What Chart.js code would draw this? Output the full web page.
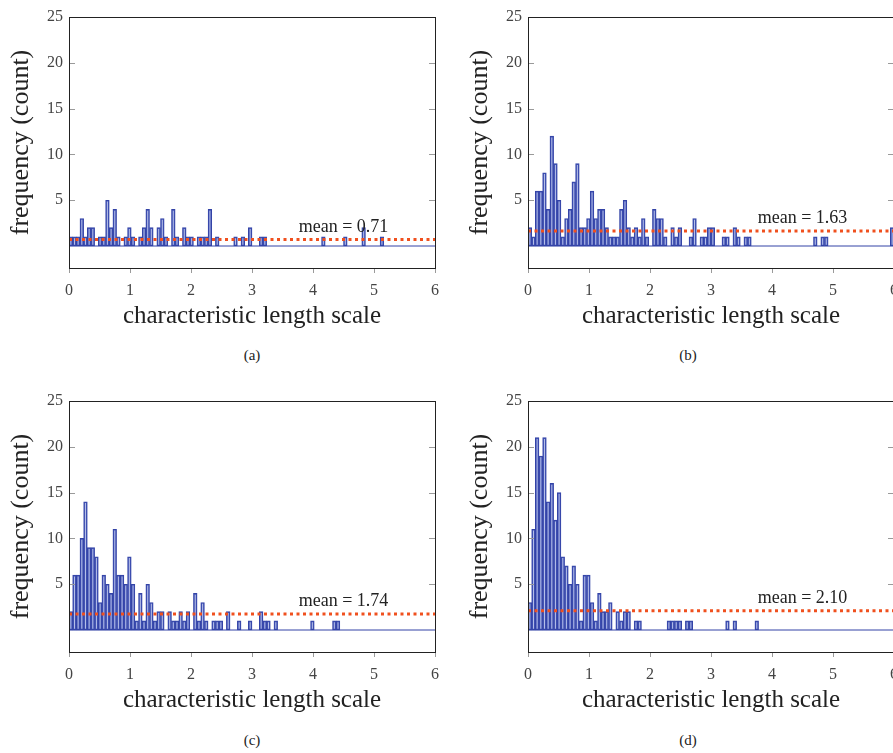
<!DOCTYPE html>
<html lang="en">
<head>
  <meta charset="UTF-8">
  <title>characteristic length scale histograms</title>
  <script src="https://cdn.jsdelivr.net/npm/chart.js@4.4.1/dist/chart.umd.min.js"></script>
  <style>
    body {
      margin: 0;
      width: 893px;
      height: 753px;
      overflow: hidden;
      position: relative;
      background: #fff;
      font-family: "Liberation Serif", serif;
    }
    .panel { position: absolute; }
    .cap {
      position: absolute;
      width: 60px;
      margin-left: -30px;
      text-align: center;
      font-size: 15px;
      line-height: 16px;
      color: #222;
    }
  </style>
</head>
<body>
  <div class="panel" style="left:0;top:0"><canvas id="ca" width="446" height="340"></canvas></div>
  <div class="panel" style="left:459px;top:0"><canvas id="cb" width="446" height="340"></canvas></div>
  <div class="panel" style="left:0;top:384px"><canvas id="cc" width="446" height="340"></canvas></div>
  <div class="panel" style="left:459px;top:384px"><canvas id="cd" width="446" height="340"></canvas></div>
  <div class="cap" style="left:252px;top:347px">(a)</div>
  <div class="cap" style="left:688px;top:347px">(b)</div>
  <div class="cap" style="left:252px;top:732px">(c)</div>
  <div class="cap" style="left:688px;top:732px">(d)</div>
  <script>
    // 100 bins of width 0.06 over [0, 6]
    const binWidth = 0.06;
    const xTicks = [0, 1, 2, 3, 4, 5, 6];
    const yTicks = [5, 10, 15, 20, 25];

    const countsA = [
      1, 1, 1, 3, 1, 2, 2, 0, 1, 1, 5, 2, 4, 1, 0, 1, 2, 1, 0, 1,
      2, 4, 2, 0, 2, 3, 1, 0, 4, 1, 0, 2, 1, 1, 0, 1, 1, 1, 4, 0,
      1, 0, 0, 0, 0, 1, 0, 1, 0, 2, 0, 0, 1, 1, 0, 0, 0, 0, 0, 0,
      0, 0, 0, 0, 0, 0, 0, 0, 0, 1, 0, 0, 0, 0, 0, 1, 0, 0, 0, 0,
      2, 0, 0, 0, 0, 1, 0, 0, 0, 0, 0, 0, 0, 0, 0, 0, 0, 0, 0, 0
    ];
    const countsB = [
      2, 1, 6, 6, 8, 4, 12, 9, 5, 1, 3, 4, 7, 9, 2, 2, 3, 6, 3, 4,
      4, 2, 1, 1, 1, 4, 5, 2, 1, 2, 1, 3, 1, 0, 4, 3, 3, 1, 0, 2,
      1, 2, 0, 0, 1, 3, 0, 1, 1, 2, 2, 0, 0, 1, 1, 0, 2, 1, 0, 1,
      1, 0, 0, 0, 0, 0, 0, 0, 0, 0, 0, 0, 0, 0, 0, 0, 0, 0, 1, 0,
      1, 1, 0, 0, 0, 0, 0, 0, 0, 0, 0, 0, 0, 0, 0, 0, 0, 0, 0, 2
    ];
    const countsC = [
      2, 6, 6, 10, 14, 9, 9, 8, 3, 6, 5, 4, 11, 6, 6, 5, 8, 5, 1, 4,
      1, 5, 3, 1, 2, 2, 0, 2, 1, 1, 2, 1, 2, 0, 4, 1, 3, 1, 0, 1,
      1, 1, 0, 2, 0, 0, 1, 0, 0, 1, 0, 0, 2, 1, 1, 0, 1, 0, 0, 0,
      0, 0, 0, 0, 0, 0, 1, 0, 0, 0, 0, 0, 1, 1, 0, 0, 0, 0, 0, 0,
      0, 0, 0, 0, 0, 0, 0, 0, 0, 0, 0, 0, 0, 0, 0, 0, 0, 0, 0, 0
    ];
    const countsD = [
      3, 11, 21, 19, 21, 14, 16, 12, 15, 8, 7, 5, 7, 5, 1, 6, 6, 3, 1, 4,
      2, 2, 3, 0, 2, 1, 2, 2, 0, 1, 1, 0, 0, 0, 0, 0, 0, 0, 1, 1,
      1, 1, 0, 1, 1, 0, 0, 0, 0, 0, 0, 0, 0, 0, 1, 0, 1, 0, 0, 0,
      0, 0, 1, 0, 0, 0, 0, 0, 0, 0, 0, 0, 0, 0, 0, 0, 0, 0, 0, 0,
      0, 0, 0, 0, 0, 0, 0, 0, 0, 0, 0, 0, 0, 0, 0, 0, 0, 0, 0, 0
    ];
    const means = [0.71, 1.63, 1.74, 2.10];
    const meanLabelX = 4.5;

    const serif = '"Liberation Serif", "DejaVu Serif", serif';
    const barFill = 'rgba(90, 110, 205, 0.45)';
    const barEdge = '#3343a6';
    const meanColor = '#f0501e';

    // frame, ticks (y inward both sides, x outward) and the mean label
    const framePlugin = {
      id: 'frame',
      afterDatasetsDraw(chart, args, opts) {
        const ctx = chart.ctx;
        const a = chart.chartArea;
        const x = chart.scales.x, y = chart.scales.y;
        ctx.save();
        ctx.strokeStyle = '#9a9a9a';
        ctx.lineWidth = 1;
        ctx.beginPath();
        xTicks.forEach(v => {
          const px = Math.round(x.getPixelForValue(v)) + 0.5;
          ctx.moveTo(px, a.bottom); ctx.lineTo(px, a.bottom + 5);
        });
        yTicks.forEach(v => {
          const py = Math.round(y.getPixelForValue(v)) + 0.5;
          ctx.moveTo(a.left, py); ctx.lineTo(a.left + 6, py);
          ctx.moveTo(a.right, py); ctx.lineTo(a.right - 6, py);
        });
        ctx.stroke();
        ctx.strokeStyle = '#222';
        ctx.strokeRect(Math.round(a.left) + 0.5, Math.round(a.top) + 0.5,
          Math.round(a.right - a.left), Math.round(a.bottom - a.top));
        ctx.font = '18px ' + serif;
        ctx.fillStyle = '#222';
        ctx.textAlign = 'center';
        ctx.textBaseline = 'alphabetic';
        ctx.fillText('mean = ' + opts.mean.toFixed(2),
          x.getPixelForValue(meanLabelX), y.getPixelForValue(opts.mean) - 8);
        ctx.restore();
      }
    };

    function makeChart(id, counts, mean) {
      const bars = counts.map((c, i) => ({ x: (i + 0.5) * binWidth, y: c }));
      new Chart(document.getElementById(id), {
        type: 'bar',
        data: {
          datasets: [
            {
              type: 'line',
              data: [{ x: 0, y: mean }, { x: 6, y: mean }],
              borderColor: meanColor,
              borderWidth: 3,
              borderDash: [3, 3.5],
              pointRadius: 0,
              order: 0
            },
            {
              type: 'line',
              data: [{ x: 0, y: 0 }, { x: 6, y: 0 }],
              borderColor: barEdge,
              borderWidth: 1,
              pointRadius: 0,
              order: 1
            },
            {
              data: bars,
              backgroundColor: barFill,
              borderColor: barEdge,
              borderWidth: 1,
              borderSkipped: false,
              barPercentage: 1,
              categoryPercentage: 1,
              order: 2
            }
          ]
        },
        options: {
          responsive: false,
          animation: false,
          layout: { padding: { top: 17, right: 11, left: 0, bottom: 0 } },
          plugins: {
            legend: { display: false },
            tooltip: { enabled: false },
            frame: { mean: mean }
          },
          scales: {
            x: {
              type: 'linear',
              min: 0,
              max: 6,
              offset: false,
              afterBuildTicks: s => { s.ticks = xTicks.map(v => ({ value: v })); },
              afterFit: s => { s.height = 72; s.paddingLeft = 0; s.paddingRight = 0; },
              grid: { display: false, drawTicks: false },
              border: { display: false },
              ticks: {
                padding: 13,
                color: '#444',
                font: { family: serif, size: 16 },
                callback: v => String(v)
              },
              title: {
                display: true,
                text: 'characteristic length scale',
                color: '#222',
                font: { family: serif, size: 25 },
                padding: { top: 0, bottom: 9 }
              }
            },
            y: {
              min: -2.4,
              max: 25,
              afterBuildTicks: s => { s.ticks = yTicks.map(v => ({ value: v })); },
              afterFit: s => { s.width = 69; s.paddingTop = 0; s.paddingBottom = 0; },
              grid: { display: false, drawTicks: false },
              border: { display: false },
              ticks: {
                padding: 6,
                color: '#444',
                font: { family: serif, size: 16 },
                callback: v => String(v)
              },
              title: {
                display: true,
                text: 'frequency (count)',
                color: '#222',
                font: { family: serif, size: 26 },
                padding: { top: 6, bottom: 0 }
              }
            }
          }
        },
        plugins: [framePlugin]
      });
    }

    makeChart('ca', countsA, means[0]);
    makeChart('cb', countsB, means[1]);
    makeChart('cc', countsC, means[2]);
    makeChart('cd', countsD, means[3]);
  </script>
</body>
</html>
